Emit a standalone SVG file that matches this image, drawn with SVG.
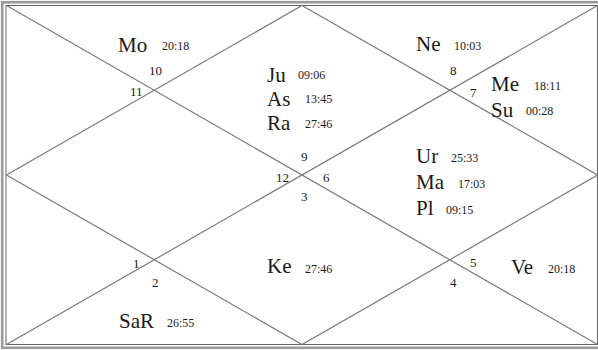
<svg xmlns="http://www.w3.org/2000/svg" width="598" height="350" viewBox="0 0 598 350">
<style>
text{font-family:"Liberation Serif","Times New Roman",serif;fill:#1a1a1a}
.p{font-size:21px}
.d{font-size:12px}
.n{font-size:13px}
.ln{stroke:#7a7a7a;stroke-width:1.2;fill:none}
</style>
<rect width="598" height="350" fill="#ffffff"/>
<g id="frame">
<rect x="2.2" y="2.2" width="600" height="345.6" fill="none" stroke="#9a9a9a" stroke-width="2.6"/>
<rect x="6" y="5.5" width="591.5" height="339" fill="none" stroke="#666" stroke-width="1"/>
</g>
<g id="connectors">
<line class="ln" x1="6.5" y1="5.5" x2="597.5" y2="344.5"/>
<line class="ln" x1="597.5" y1="5.5" x2="6.5" y2="344.5"/>
<polygon class="ln" points="302,5.5 597.5,175 302,344.5 6.5,175"/>
</g>
<g id="house1">
<text class="p" x="267" y="82">Ju</text><text class="d" x="298" y="79">09:06</text>
<text class="p" x="267" y="106">As</text><text class="d" x="305" y="103">13:45</text>
<text class="p" x="267" y="130">Ra</text><text class="d" x="305" y="128">27:46</text>
<text class="n" x="301" y="161">9</text>
</g>
<g id="house2">
<text class="p" x="416" y="51">Ne</text><text class="d" x="454" y="50">10:03</text>
<text class="n" x="450" y="75">8</text>
</g>
<g id="house3">
<text class="p" x="491" y="91">Me</text><text class="d" x="534" y="90">18:11</text>
<text class="p" x="491" y="117">Su</text><text class="d" x="526" y="115">00:28</text>
<text class="n" x="470" y="97">7</text>
</g>
<g id="house4">
<text class="p" x="416" y="163">Ur</text><text class="d" x="451" y="162">25:33</text>
<text class="p" x="416" y="189">Ma</text><text class="d" x="458" y="188">17:03</text>
<text class="p" x="416" y="215">Pl</text><text class="d" x="446" y="214">09:15</text>
<text class="n" x="323" y="182">6</text>
</g>
<g id="house5">
<text class="p" x="511" y="274">Ve</text><text class="d" x="548" y="273">20:18</text>
<text class="n" x="470" y="267">5</text>
</g>
<g id="house6">
<text class="n" x="450" y="287">4</text>
</g>
<g id="house7">
<text class="p" x="267" y="273">Ke</text><text class="d" x="305" y="273">27:46</text>
<text class="n" x="301" y="201">3</text>
</g>
<g id="house8">
<text class="p" x="119" y="328">SaR</text><text class="d" x="167" y="327">26:55</text>
<text class="n" x="152" y="287">2</text>
</g>
<g id="house9">
<text class="n" x="133" y="268">1</text>
</g>
<g id="house10">
<text class="n" x="276" y="182">12</text>
</g>
<g id="house11">
<text class="n" x="130" y="96">11</text>
</g>
<g id="house12">
<text class="p" x="118" y="52">Mo</text><text class="d" x="162" y="50">20:18</text>
<text class="n" x="149" y="75">10</text>
</g>
</svg>
